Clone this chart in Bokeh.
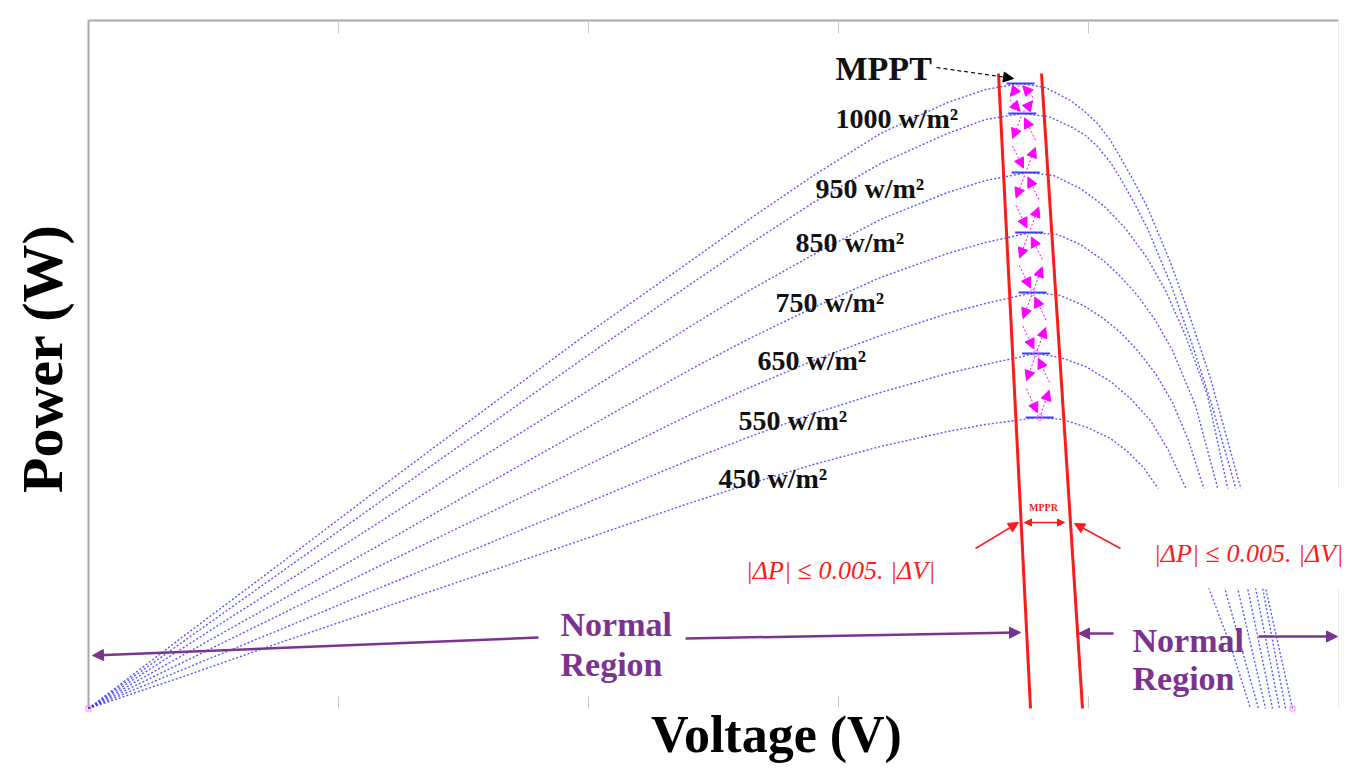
import math
from bokeh.plotting import figure
from bokeh.models import (Range1d, Label, Arrow, NormalHead, BoxAnnotation, ColumnDataSource)
from bokeh.embed import file_html
from bokeh.resources import INLINE
from bokeh.core.properties import value

# ---------------- data ----------------
irradiance_labels = ["1000 w/m\u00b2", "950 w/m\u00b2", "850 w/m\u00b2", "750 w/m\u00b2",
                     "650 w/m\u00b2", "550 w/m\u00b2", "450 w/m\u00b2"]
label_v = [14.94, 14.54, 14.14, 13.74, 13.38, 13.0, 12.6]
label_p = [118.0, 104.0, 93.2, 81.2, 69.6, 57.6, 46.0]

v_rise = [0, 1.84, 3.84, 5.84, 7.66, 9.84, 12.0, 13.18, 14.5, 15.84, 17.18, 17.94]

p_1000_rise = [0, 14.0, 29.0, 44.2, 57.8, 74.0, 89.2, 97.6, 106.6, 115.0, 121.2, 123.8]
v_1000_fall = [18.64, 19.14, 19.64, 19.9, 20.18, 20.44, 20.64, 20.9, 21.18, 21.64, 22.04,
               22.44, 23.04, 23.54, 24.08]
p_1000_fall = [125.0, 124.2, 121.6, 119.6, 117.0, 113.6, 110.2, 105.6, 100.2, 89.2, 78.0,
               66.0, 44.2, 24.2, 0]

p_950_rise = [0, 13.0, 27.2, 41.4, 54.2, 69.6, 84.6, 92.6, 101.2, 109.0, 115.0, 117.8]
v_950_fall = [18.68, 19.2, 19.68, 19.94, 20.18, 20.44, 20.64, 20.9, 21.18, 21.64, 22.04,
              22.44, 22.94, 23.48, 23.94]
p_950_fall = [119.0, 118.4, 116.2, 114.6, 112.4, 109.2, 106.0, 101.4, 96.0, 85.0, 73.8,
              61.6, 44.2, 24.2, 0]

p_850_rise = [0, 11.8, 24.6, 37.4, 49.0, 62.6, 76.2, 83.4, 90.8, 97.8, 103.2, 105.6]
v_850_fall = [18.78, 19.3, 19.84, 20.3, 20.74, 21.18, 21.54, 21.94, 22.38, 22.78, 23.34, 23.82]
p_850_fall = [107.2, 106.6, 104.0, 100.6, 96.0, 90.0, 83.6, 74.6, 62.6, 44.2, 24.2, 0]

p_750_rise = [0, 10.4, 21.6, 32.8, 43.2, 55.4, 67.6, 73.8, 80.2, 86.2, 91.0, 93.2]
v_750_fall = [18.84, 19.38, 19.84, 20.3, 20.64, 20.98, 21.34, 21.68, 22.14, 22.58, 23.18, 23.68]
p_750_fall = [95.2, 94.8, 92.8, 89.6, 86.4, 82.6, 77.6, 71.6, 60.6, 44.2, 24.2, 0]

p_650_rise = [0, 9.0, 18.8, 28.6, 37.4, 48.0, 58.6, 64.0, 69.6, 74.6, 79.0, 81.0]
v_650_fall = [18.9, 19.44, 19.9, 20.3, 20.64, 20.98, 21.34, 21.68, 22.0, 22.3, 22.98, 23.54]
p_650_fall = [83.2, 82.6, 80.6, 78.0, 75.2, 71.6, 67.0, 61.2, 53.6, 44.2, 24.2, 0]

p_550_rise = [0, 7.6, 15.8, 24.2, 31.6, 40.6, 49.6, 54.2, 59.0, 63.2, 67.0, 68.8]
v_550_fall = [18.94, 19.44, 19.94, 20.44, 20.84, 21.24, 21.6, 21.94, 22.72, 23.4]
p_550_fall = [71.0, 70.2, 68.4, 65.4, 62.0, 57.6, 51.6, 44.2, 24.2, 0]

p_450_rise = [0, 6.2, 13.2, 20.0, 26.2, 33.6, 41.0, 44.8, 48.8, 52.4, 55.4, 56.8]
v_450_fall = [18.98, 19.48, 19.98, 20.44, 20.78, 21.1, 21.38, 21.94, 22.4, 22.84, 23.24]
p_450_fall = [58.2, 57.8, 56.2, 54.0, 51.4, 48.2, 44.2, 34.2, 24.2, 12.6, 0]

curves = [
    (v_rise + v_1000_fall, p_1000_rise + p_1000_fall),
    (v_rise + v_950_fall, p_950_rise + p_950_fall),
    (v_rise + v_850_fall, p_850_rise + p_850_fall),
    (v_rise + v_750_fall, p_750_rise + p_750_fall),
    (v_rise + v_650_fall, p_650_rise + p_650_fall),
    (v_rise + v_550_fall, p_550_rise + p_550_fall),
    (v_rise + v_450_fall, p_450_rise + p_450_fall),
]

v_max = 25.0          # right edge of the drawing box
p_max = 137.6         # top edge of the drawing box
v_ticks = [5, 10, 15, 20]

# ---------------- figure ----------------
SERIF = "Liberation Serif"
BLUE = "#3c3cff"
RED = "#ff1a1a"
PURPLE = "#7a3391"
MAGENTA = "#ff00ff"
FRAME = "#a8a8a8"

W, H = 1349, 766
p = figure(width=W, height=H, output_backend="svg", toolbar_location=None,
           x_range=Range1d(-88 / 50, (W - 88) / 50), y_range=Range1d((708 - H) / 5, 708 / 5),
           x_axis_location=None, y_axis_location=None,
           min_border_left=0, min_border_right=0, min_border_top=0, min_border_bottom=0)
p.outline_line_color = None
p.grid.visible = False
p.background_fill_color = "white"
p.border_fill_color = "white"

# drawing box: top and left lines, faint right line, inward ticks top & bottom
p.segment(x0=[0, 0], y0=[p_max, 0], x1=[v_max, 0], y1=[p_max, p_max],
          line_color=FRAME, line_width=2)
p.segment(x0=[v_max], y0=[0], x1=[v_max], y1=[p_max], line_color="#ececec", line_width=1)
p.segment(x0=v_ticks + v_ticks, y0=[p_max] * 4 + [0] * 4,
          x1=v_ticks + v_ticks, y1=[p_max - 2.6] * 4 + [2.4] * 4,
          line_color="#c8c8c8", line_width=1)

# P-V curves
for vv, pp in curves:
    p.line(vv, pp, line_color=BLUE, line_width=1.4, line_dash="2 2", line_alpha=0.85)

# irradiance labels
lab_src = ColumnDataSource(dict(x=label_v, y=label_p, t=irradiance_labels))
p.text(x="x", y="y", text="t", source=lab_src, text_font=value(SERIF),
       text_font_style="bold", text_font_size="28px", text_color="#111111",
       text_align="left", text_baseline="middle")

# MPPR band (two slanted red lines)
band_left = ([18.2, 18.84], [127.0, 0.0])
band_right = ([19.06, 19.88], [127.0, 0.0])
p.line(*band_left, line_color=RED, line_width=3)
p.line(*band_right, line_color=RED, line_width=3)


def band_x(line, pw):
    (x0, x1), (y0, y1) = line
    return x0 + (pw - y0) / (y1 - y0) * (x1 - x0)


def band_center(pw):
    return 0.5 * (band_x(band_left, pw) + band_x(band_right, pw))


peaks = [max(pp) for _, pp in curves]

# solid blue marks at each maximum inside the band
p.segment(x0=[band_center(pk) - 0.28 for pk in peaks], y0=peaks,
          x1=[band_center(pk) + 0.28 for pk in peaks], y1=peaks,
          line_color=BLUE, line_width=2)

# zig-zag perturb & observe arrows
xs0, ys0, xs1, ys1 = [], [], [], []
half_w = 0.26
for a, b in zip(peaks[:-1], peaks[1:]):
    m = 0.5 * (a + b)
    top = (band_center(a), a)
    left = (band_center(m) - half_w, m)
    bot = (band_center(b), b)
    right = (band_center(m) + half_w, m)
    for s, e in [(top, left), (left, bot), (bot, right), (right, top)]:
        xs0.append(s[0] + 0.1 * (e[0] - s[0]))
        ys0.append(s[1] + 0.1 * (e[1] - s[1]))
        xs1.append(s[0] + 0.85 * (e[0] - s[0]))
        ys1.append(s[1] + 0.85 * (e[1] - s[1]))
zig = ColumnDataSource(dict(x0=xs0, y0=ys0, x1=xs1, y1=ys1))
p.add_layout(Arrow(source=zig, x_start="x0", y_start="y0", x_end="x1", y_end="y1",
                   line_color=MAGENTA, line_width=1, line_dash="2 2",
                   end=NormalHead(size=10, fill_color=MAGENTA, line_color=MAGENTA)))

p.scatter([band_center(pk) for pk in peaks[-3:]], peaks[-3:], marker="circle", size=6,
          line_color="#ff66ff", fill_color=None)
p.scatter([0, 24.08], [0, 0], marker="square", size=5, line_color="#ff88ff", fill_color=None)

# white box hiding part of the curves on the right
p.add_layout(BoxAnnotation(left=21.0, right=25.6, bottom=24.0, top=44.0,
                           fill_color="white", fill_alpha=1.0, line_color=None))

# MPPT label and dashed arrow
p.add_layout(Label(x=14.94, y=128.0, text="MPPT", text_font=SERIF, text_font_style="bold",
                   text_font_size="34px", text_color="#111111", text_baseline="middle"))
p.add_layout(Arrow(x_start=16.96, y_start=128.2, x_end=18.5, y_end=126.0,
                   line_color="black", line_width=1.2, line_dash="4 3",
                   end=NormalHead(size=10, fill_color="black", line_color="black")))

# MPPR width marker
p.add_layout(Label(x=19.1, y=40.2, text="MPPR", text_font=SERIF, text_font_style="bold",
                   text_font_size="10px", text_color=RED, text_align="center",
                   text_baseline="middle"))
p.add_layout(Arrow(x_start=18.72, y_start=37.2, x_end=19.52, y_end=37.2,
                   line_color=RED, line_width=1.5,
                   start=NormalHead(size=7, fill_color=RED, line_color=RED),
                   end=NormalHead(size=7, fill_color=RED, line_color=RED)))
for xs, ys, xe, ye in [(17.74, 32.0, 18.6, 37.2), (20.64, 32.0, 19.72, 37.0)]:
    p.add_layout(Arrow(x_start=xs, y_start=ys, x_end=xe, y_end=ye, line_color=RED,
                       line_width=1.5,
                       end=NormalHead(size=10, fill_color=RED, line_color=RED)))

cond = "|\u0394P| \u2264 0.005. |\u0394V|"
for xc, yc in [(15.04, 27.6), (23.2, 31.0)]:
    p.add_layout(Label(x=xc, y=yc, text=cond, text_font=SERIF, text_font_style="italic",
                       text_font_size="26px", text_color=RED, text_align="center",
                       text_baseline="middle"))

# Normal region arrows and labels
for xs, ys, xe, ye in [(9.0, 14.2, 0.08, 10.6), (11.94, 14.0, 18.64, 15.2),
                       (20.5, 15.0, 19.8, 15.0), (23.4, 14.4, 24.98, 14.4)]:
    p.add_layout(Arrow(x_start=xs, y_start=ys, x_end=xe, y_end=ye, line_color=PURPLE,
                       line_width=2.5,
                       end=NormalHead(size=11, fill_color=PURPLE, line_color=PURPLE)))
for xl, yl, t in [(9.44, 16.8, "Normal"), (9.44, 8.8, "Region"),
                  (20.88, 13.6, "Normal"), (20.88, 6.0, "Region")]:
    p.add_layout(Label(x=xl, y=yl, text=t, text_font=SERIF, text_font_style="bold",
                       text_font_size="34px", text_color=PURPLE, text_baseline="middle"))

# axis titles
p.add_layout(Label(x=13.76, y=-5.2, text="Voltage (V)", text_font=SERIF,
                   text_font_style="bold", text_font_size="52px", text_color="black",
                   text_align="center", text_baseline="middle"))
p.add_layout(Label(x=-0.92, y=70.0, text="Power (W)", text_font=SERIF,
                   text_font_style="bold", text_font_size="58px", text_color="black",
                   text_align="center", text_baseline="middle", angle=math.pi / 2))

open("out.html", "w").write(file_html(p, INLINE))
